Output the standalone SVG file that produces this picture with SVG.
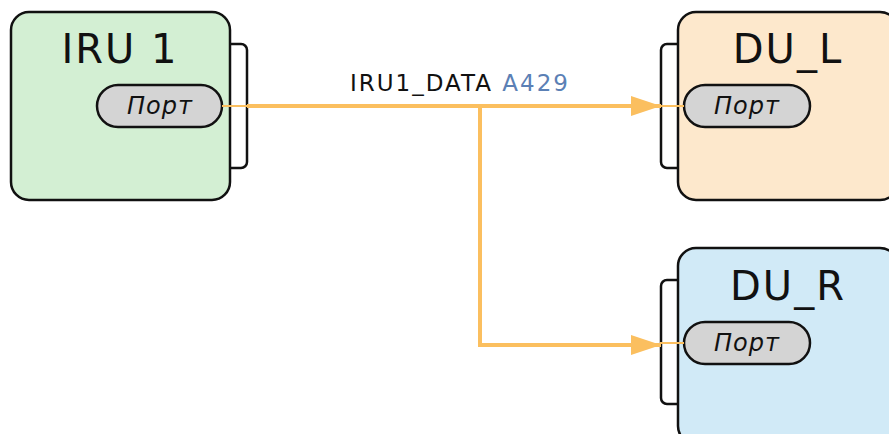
<svg xmlns="http://www.w3.org/2000/svg" width="889" height="434" viewBox="0 0 889 434">
<style>
.box{stroke:#111;stroke-width:2.5}
.br{fill:#fff;stroke:#111;stroke-width:2.5}
.port{fill:#d4d4d4;stroke:#111;stroke-width:2.5}
.title{font-family:"DejaVu Sans",sans-serif;font-size:40px;fill:#111;text-anchor:middle;letter-spacing:2px}
.pt{font-family:"DejaVu Sans",sans-serif;font-style:italic;font-size:24px;fill:#111;text-anchor:middle;letter-spacing:1px}
.wire{fill:none;stroke:#fbbf5f;stroke-width:4}
.thin{fill:none;stroke:#fbbf5f;stroke-width:2}
.lbl{font-family:"DejaVu Sans",sans-serif;font-size:23px;fill:#111;letter-spacing:2px}
</style>
<defs>
<marker id="ah" markerWidth="7.5" markerHeight="5" refX="7.5" refY="2.5" orient="auto" markerUnits="strokeWidth">
<path d="M0,0 L7.5,2.5 L0,5 Z" fill="#fbbf5f"/>
</marker>
</defs>
<g id="iru1">
<rect class="br" x="222" y="44" width="25" height="124" rx="6"/>
<rect class="box" x="11" y="12" width="219" height="188" rx="18" fill="#d3efd3"/>
<text class="title" x="120" y="63">IRU 1</text>
<rect class="port" x="97" y="85" width="125" height="42" rx="21"/>
<text class="pt" x="160" y="114">Порт</text>
</g>
<g id="du_l">
<rect class="br" x="661" y="44" width="25" height="124" rx="6"/>
<rect class="box" x="678" y="12" width="220" height="188" rx="18" fill="#fde8cc"/>
<text class="title" x="788" y="63">DU_L</text>
<rect class="port" x="684" y="85" width="126" height="42" rx="21"/>
<text class="pt" x="747" y="114">Порт</text>
</g>
<g id="du_r">
<rect class="br" x="661" y="280" width="25" height="124" rx="6"/>
<rect class="box" x="678" y="248" width="220" height="196" rx="18" fill="#d1eaf7"/>
<text class="title" x="788" y="300">DU_R</text>
<rect class="port" x="684" y="322" width="126" height="42" rx="21"/>
<text class="pt" x="747" y="351">Порт</text>
</g>
<g id="connectors">
<line class="thin" x1="222" y1="106" x2="247" y2="106"/>
<path class="wire" d="M247,106 L661,106" marker-end="url(#ah)"/>
<path class="wire" d="M480,106 L480,345 L661,345" marker-end="url(#ah)"/>
<line class="thin" x1="660" y1="106" x2="684" y2="106"/>
<line class="thin" x1="660" y1="343" x2="684" y2="343"/>
<text class="lbl" x="350" y="91">IRU1_DATA <tspan fill="#5b80b5">A429</tspan></text>
</g>
</svg>
